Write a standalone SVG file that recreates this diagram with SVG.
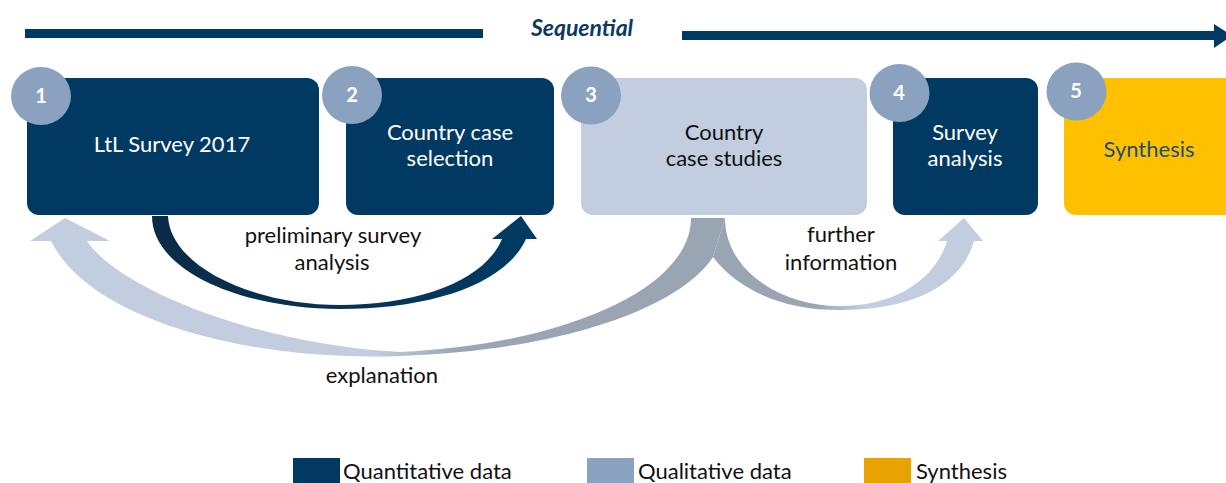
<svg xmlns="http://www.w3.org/2000/svg" width="1226" height="483" viewBox="0 0 1226 483">
<style>
  .t{font-family:Lato,"Open Sans","Liberation Sans",sans-serif;font-size:22px;text-anchor:middle}
  .w{fill:#ffffff}
  .k{fill:#111111}
  .num{font-family:Lato,"Open Sans","Liberation Sans",sans-serif;font-size:20px;font-weight:bold;fill:#ffffff;text-anchor:middle}
  .circ{fill:#8AA2BF}
  .dark{fill:#003A63}
  .lg{font-family:Lato,"Open Sans","Liberation Sans",sans-serif;font-size:22px;fill:#111111}
</style>
<defs>
  <linearGradient id="gDark" gradientUnits="userSpaceOnUse" x1="150" y1="0" x2="540" y2="0">
    <stop offset="0" stop-color="#0C2B47"/>
    <stop offset="1" stop-color="#003B63"/>
  </linearGradient>
  <linearGradient id="gLeft" gradientUnits="userSpaceOnUse" x1="370" y1="0" x2="460" y2="0">
    <stop offset="0" stop-color="#C2CDDF"/>
    <stop offset="1" stop-color="#9AA5B4"/>
  </linearGradient>
  <linearGradient id="gRight" gradientUnits="userSpaceOnUse" x1="815" y1="0" x2="865" y2="0">
    <stop offset="0" stop-color="#9AA5B4"/>
    <stop offset="1" stop-color="#C2CDDF"/>
  </linearGradient>
</defs>

<g id="sequential">
  <rect x="25" y="29" width="458" height="9" class="dark"/>
  <rect x="682" y="31" width="534" height="9" class="dark"/>
  <polygon points="1214,24 1232,35.5 1214,48" class="dark"/>
  <text x="582" y="36" font-family="Lato,'Open Sans','Liberation Sans',sans-serif" font-size="23" font-weight="bold" font-style="italic" fill="#0E3A60" text-anchor="middle">Sequential</text>
</g>

<g id="connectors">
  <path id="c-prelim" fill="url(#gDark)" d="M152,216 L168,216 C170,265 250,305 340,305 C420,305 485,280 502,239 L492,239 L521,216 L537,239 L526,239 C505,285 430,309 340,309 C240,309 152,270 152,216 Z"/>
  <path id="c-explanation" fill="url(#gLeft)" d="M691,218 L725,218 L713,257 C682,305 570,350 400,356 C250,362 90,320 51,241 L30,241 L65,218 L110,241 L87,241 C120,290 260,345 400,352 C560,345 691,290 691,218 Z"/>
  <path id="c-further" fill="url(#gRight)" d="M725,218 C725,270 780,306 840,306 C895,306 935,280 947,241 L938,241 L964,218 L983,241 L974,241 C960,290 905,310 840,310 C785,310 740,292 713,257 Z"/>
  <text class="t k" x="333" y="243">preliminary survey</text>
  <text class="t k" x="332" y="270">analysis</text>
  <text class="t k" x="382" y="383">explanation</text>
  <text class="t k" x="841" y="242">further</text>
  <text class="t k" x="841" y="270">information</text>
</g>

<g id="node1">
  <rect x="27" y="78" width="292" height="137" rx="12" class="dark"/>
  <ellipse cx="41" cy="96" rx="30" ry="29" class="circ"/>
  <text class="num" x="41" y="103">1</text>
  <text class="t w" x="172" y="152">LtL Survey 2017</text>
</g>
<g id="node2">
  <rect x="346" y="78" width="208" height="137" rx="12" class="dark"/>
  <ellipse cx="352" cy="95" rx="30" ry="29" class="circ"/>
  <text class="num" x="352" y="102">2</text>
  <text class="t w" x="450" y="140">Country case</text>
  <text class="t w" x="450" y="166">selection</text>
</g>
<g id="node3">
  <rect x="581" y="78" width="286" height="137" rx="12" fill="#C2CDDF"/>
  <ellipse cx="591" cy="95.5" rx="30" ry="29" class="circ"/>
  <text class="num" x="591" y="102">3</text>
  <text class="t k" x="724" y="140">Country</text>
  <text class="t k" x="724" y="166">case studies</text>
</g>
<g id="node4">
  <rect x="893" y="78" width="145" height="137" rx="12" class="dark"/>
  <ellipse cx="899.5" cy="93" rx="30" ry="29" class="circ"/>
  <text class="num" x="899" y="100">4</text>
  <text class="t w" x="965" y="140">Survey</text>
  <text class="t w" x="965" y="166">analysis</text>
</g>
<g id="node5">
  <rect x="1064" y="78" width="180" height="137" rx="12" fill="#FFC000"/>
  <ellipse cx="1076.5" cy="91.5" rx="30" ry="29" class="circ"/>
  <text class="num" x="1076" y="98">5</text>
  <text class="t" fill="#1F4E79" x="1149" y="157">Synthesis</text>
</g>

<g id="legend">
  <rect x="293" y="458" width="47" height="30" fill="#003A63"/>
  <text class="lg" x="343" y="479">Quantitative data</text>
  <rect x="587" y="458" width="47" height="30" fill="#8AA2BF"/>
  <text class="lg" x="638" y="479">Qualitative data</text>
  <rect x="864" y="458" width="47" height="30" fill="#E8A202"/>
  <text class="lg" x="916" y="479">Synthesis</text>
</g>
</svg>
